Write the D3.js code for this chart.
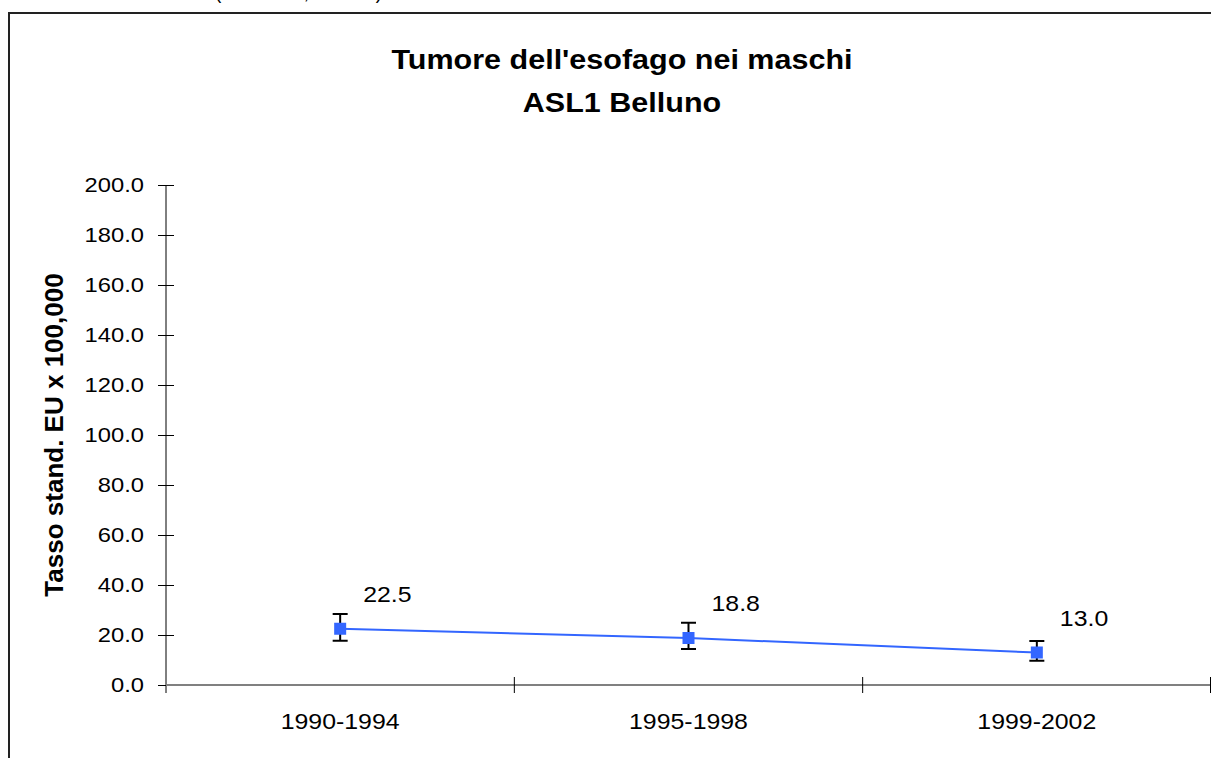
<!DOCTYPE html>
<html>
<head>
<meta charset="utf-8">
<script src="https://cdn.jsdelivr.net/npm/d3@7"></script>
<style>
  body { margin: 0; background: #fff; }
  svg { display: block; font-family: Arial, "Liberation Sans", sans-serif; }
</style>
</head>
<body>
<svg width="1211" height="758"></svg>
<script>
"use strict";

// data
var periods = ["1990-1994", "1995-1998", "1999-2002"];
var rates = [22.5, 18.8, 13.0];
var lowerCI = [17.7, 14.4, 9.7];
var upperCI = [28.4, 24.9, 17.6];
var yTicks = [0, 20, 40, 60, 80, 100, 120, 140, 160, 180, 200];
var rateLabels = ["22.5", "18.8", "13.0"];

var W = 1211, H = 758;
var SX = 1.13; // the original text is a bit wide, stretch it
var blue = "#3366ff";

var svg = d3.select("svg");
svg.append("rect").attr("width", W).attr("height", H).attr("fill", "#fff");

function stretch(sel) {
  sel.each(function () {
    var w = this.getComputedTextLength();
    d3.select(this).attr("textLength", w * SX).attr("lengthAdjust", "spacingAndGlyphs");
  });
}

// clipped text above the frame (only its lower edge shows)
svg.append("text").attr("x", 215).attr("y", -1)
  .attr("font-size", 20).attr("fill", "#000")
  .attr("textLength", 167).attr("lengthAdjust", "spacingAndGlyphs")
  .text("(x 100.000, IC 95%)");

// frame
svg.append("rect").attr("x", 9).attr("y", 13).attr("width", 1300).attr("height", 900)
  .attr("fill", "none").attr("stroke", "#222").attr("stroke-width", 2);

var x = d3.scaleBand().domain(periods).range([166, 1211]).padding(0);
var y = d3.scaleLinear().domain([0, 200]).range([685, 185]);

// title
var title = svg.append("g").attr("font-weight", "bold").attr("font-size", 27).attr("text-anchor", "middle");
title.append("text").attr("x", 622).attr("y", 69).text("Tumore dell'esofago nei maschi").call(stretch);
title.append("text").attr("x", 622).attr("y", 112).text("ASL1 Belluno").call(stretch);

// y axis
var yAxis = svg.append("g").attr("transform", "translate(166,0)")
  .call(d3.axisLeft(y).tickValues(yTicks).tickFormat(d3.format(".1f")).tickSize(8).tickPadding(14));
yAxis.select(".domain").remove();
yAxis.append("line").attr("y1", y(200)).attr("y2", 693).attr("stroke", "#000");
yAxis.selectAll(".tick line").attr("x2", -8).attr("x1", 8).attr("stroke", "#000");
yAxis.selectAll(".tick text").attr("font-size", 21).attr("fill", "#000")
  .attr("font-family", "Arial, 'Liberation Sans', sans-serif").attr("dy", "0.33em").call(stretch);

// x axis
var xAxis = svg.append("g").attr("transform", "translate(0," + y(0) + ")");
xAxis.append("line").attr("x1", 166).attr("x2", 1211).attr("stroke", "#808080").attr("stroke-width", 2);
xAxis.selectAll(".sep").data(periods.slice(1).concat(["end"])).enter().append("line")
  .attr("x1", function (d, i) { return i < periods.length - 1 ? x(d) : x.range()[1] - 0.5; })
  .attr("x2", function (d, i) { return i < periods.length - 1 ? x(d) : x.range()[1] - 0.5; })
  .attr("y1", -8).attr("y2", 8).attr("stroke", "#000");
xAxis.selectAll(".cat").data(periods).enter().append("text")
  .attr("x", function (d) { return x(d) + x.bandwidth() / 2; })
  .attr("y", 44).attr("text-anchor", "middle").attr("font-size", 22)
  .text(function (d) { return d; }).call(stretch);

// y title
svg.append("text").attr("transform", "translate(63,435) rotate(-90)")
  .attr("text-anchor", "middle").attr("font-weight", "bold").attr("font-size", 26)
  .text("Tasso stand. EU x 100,000");

var cx = function (i) { return x(periods[i]) + x.bandwidth() / 2; };

// line
var line = d3.line().x(function (d, i) { return cx(i); }).y(function (d) { return y(d); });
svg.append("path").datum(rates).attr("d", line).attr("fill", "none")
  .attr("stroke", blue).attr("stroke-width", 2);

// error bars
var eb = svg.append("g").attr("stroke", "#000").attr("stroke-width", 2);
rates.forEach(function (r, i) {
  eb.append("line").attr("x1", cx(i)).attr("x2", cx(i)).attr("y1", y(lowerCI[i])).attr("y2", y(upperCI[i]));
  eb.append("line").attr("x1", cx(i) - 7.5).attr("x2", cx(i) + 7.5).attr("y1", y(lowerCI[i])).attr("y2", y(lowerCI[i]));
  eb.append("line").attr("x1", cx(i) - 7.5).attr("x2", cx(i) + 7.5).attr("y1", y(upperCI[i])).attr("y2", y(upperCI[i]));
});

// markers
svg.selectAll(".pt").data(rates).enter().append("rect")
  .attr("x", function (d, i) { return cx(i) - 6; })
  .attr("y", function (d) { return y(d) - 6; })
  .attr("width", 12).attr("height", 12).attr("fill", blue);

// value labels
svg.selectAll(".lbl").data(rates).enter().append("text")
  .attr("x", function (d, i) { return cx(i) + 23; })
  .attr("y", function (d) { return y(d) - 27; })
  .attr("font-size", 22)
  .text(function (d, i) { return rateLabels[i]; }).call(stretch);
</script>
</body>
</html>
